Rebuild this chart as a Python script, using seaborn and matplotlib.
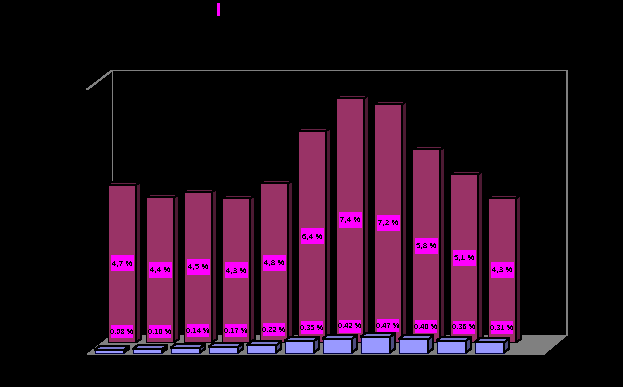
import matplotlib
matplotlib.use("Agg")
import matplotlib.pyplot as plt
from matplotlib.patches import Polygon, Rectangle
import seaborn as sns

months = ["1", "2", "3", "4", "5", "6", "7", "8", "9", "10", "11"]
back_values = [4.74, 4.36, 4.53, 4.33, 4.78, 6.37, 7.35, 7.17, 5.8, 5.06, 4.34]
front_values = [0.08, 0.10, 0.14, 0.17, 0.22, 0.35, 0.42, 0.47, 0.40, 0.36, 0.31]
back_labels = ["4,7 %", "4,4 %", "4,5 %", "4,3 %", "4,8 %", "6,4 %", "7,4 %", "7,2 %", "5,8 %", "5,1 %", "4,3 %"]
front_labels = ["0,08 %", "0,10 %", "0,14 %", "0,17 %", "0,22 %", "0,35 %", "0,42 %", "0,47 %", "0,40 %", "0,36 %", "0,31 %"]

W, H = 623, 387
X_UNIT = 38
Y_UNIT = 33.2

sns.set_style("white")
plt.rcParams["font.family"] = ["Liberation Sans", "DejaVu Sans"]
plt.rcParams["text.antialiased"] = False
plt.rcParams["patch.antialiased"] = False

fig = plt.figure(figsize=(W / 100, H / 100), dpi=100, facecolor="black")


def overlay(zorder):
    ax = fig.add_axes([0, 0, 1, 1], zorder=zorder)
    ax.patch.set_alpha(0)
    ax.set_axis_off()
    return ax


def set_scale(ax, first_center, baseline):
    # one category = X_UNIT px, one percent = Y_UNIT px
    ax.set_xlim(-first_center / X_UNIT, (W - first_center) / X_UNIT)
    ax.set_ylim((baseline - H) / Y_UNIT, baseline / Y_UNIT)
    ax.set_axis_off()


def add_depth(ax, dx_px, dy_px, top_color, side_color):
    dx = dx_px / X_UNIT
    dy = dy_px / Y_UNIT
    for bar in list(ax.patches):
        x0, x1 = bar.get_x(), bar.get_x() + bar.get_width()
        y1 = bar.get_height()
        ax.add_patch(Polygon([(x0, y1), (x0 + dx, y1 + dy), (x1 + dx, y1 + dy), (x1, y1)],
                             facecolor=top_color, edgecolor="black", lw=0.72))
        ax.add_patch(Polygon([(x1, 0), (x1 + dx, dy), (x1 + dx, y1 + dy), (x1, y1)],
                             facecolor=side_color, edgecolor="black", lw=0.72))


def add_label(ax, x, y, text, w_px, h_px, size):
    w = w_px / X_UNIT
    h = h_px / Y_UNIT
    ax.add_patch(Rectangle((x - w / 2, y - h / 2), w, h, facecolor="#ff00ff", edgecolor="none", zorder=5))
    ax.text(x, y, text, ha="center", va="center", fontsize=size, color="black", zorder=6)


# walls and floor, in pixels
bg = overlay(1)
bg.set_xlim(0, W)
bg.set_ylim(H, 0)
bg.add_patch(Polygon([(87, 354.5), (112, 335), (567, 335), (543, 355)], facecolor="#808080", edgecolor="none"))
bg.plot([87, 112, 567, 567], [89.5, 70.5, 70.5, 335], color="#808080", lw=0.7, antialiased=False)
bg.plot([112, 112], [70.5, 335], color="#808080", lw=0.7, antialiased=False)
bg.add_patch(Rectangle((217, 3), 3, 13, facecolor="#ff00ff", edgecolor="none"))

# tall series, at the back
back = overlay(2)
sns.barplot(x=months, y=back_values, color="#993366", saturation=1, width=0.763,
            edgecolor="black", linewidth=0.72, ax=back)
add_depth(back, 4.5, 3, "#662244", "#4d1a33")
set_scale(back, 122, 342)

for i, v in enumerate(back_values):
    add_label(back, i, v / 2, back_labels[i], 23, 16, 5.8)
for i, v in enumerate(front_values):
    add_label(back, i, v / 2 + 9 / Y_UNIT, front_labels[i], 22, 13, 5.4)

# small series, in front
front = overlay(3)
sns.barplot(x=months, y=front_values, color="#9999ff", saturation=1, width=0.78,
            edgecolor="#000040", linewidth=0.72, ax=front)
add_depth(front, 5, 4, "#7a7acc", "#4d4d80")
set_scale(front, 109.5, 352.5)

fig.savefig("out.png", dpi=100, facecolor="black")
